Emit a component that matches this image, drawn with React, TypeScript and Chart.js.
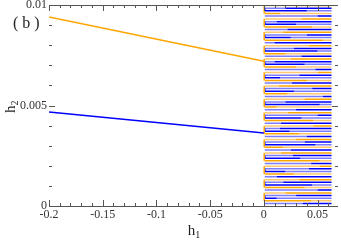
import { useEffect, useRef } from "react";
import { Chart, registerables } from "chart.js";

Chart.register(...registerables);

// main branches (x < 0)
const mainX = [-0.2, 0];
const orangeMainY = [0.0094, 0.0072];
const blueMainY = [0.00468, 0.00363];

// ticks
const xTickValues = [-0.2, -0.15, -0.1, -0.05, 0, 0.05];
const xTickLabels = ["-0.2", "-0.15", "-0.1", "-0.05", "0", "0.05"];
const xMinorTicks = [-0.19, -0.18, -0.17, -0.16, -0.14, -0.13, -0.12, -0.11, -0.09, -0.08, -0.07, -0.06, -0.04, -0.03, -0.02, -0.01, 0.01, 0.02, 0.03, 0.04, 0.06];
const yTickValues = [0, 0.005, 0.01];
const yTickLabels = ["0", "0.005", "0.01"];
const yMinorTicks = [0.001, 0.002, 0.003, 0.004, 0.006, 0.007, 0.008, 0.009];

// stripe region (x > 0)
const stripeStart = 0.0008;
const stripeEnd = 0.063;
const connectorX = 0.0003;
const stripeY = [
  0.00997, 0.00984, 0.00971, 0.00958, 0.00945,
  0.0093, 0.00917, 0.00904, 0.00891, 0.00878,
  0.00864, 0.00851, 0.00838, 0.00825, 0.00812,
  0.00797, 0.00784, 0.00771, 0.00758, 0.00745,
  0.00731, 0.00718, 0.00705, 0.00692, 0.00679,
  0.00664, 0.00651, 0.00638, 0.00625, 0.00612,
  0.00597, 0.00584, 0.00571, 0.00558, 0.00545,
  0.00531, 0.00518, 0.00505, 0.00492, 0.00479,
  0.00464, 0.00451, 0.00438, 0.00425, 0.00412,
  0.00398, 0.00385, 0.00372, 0.00359, 0.00346,
  0.00331, 0.00318, 0.00305, 0.00292, 0.00279,
  0.00264, 0.00251, 0.00238, 0.00225, 0.00212,
  0.00198, 0.00185, 0.00172, 0.00159, 0.00146,
  0.00131, 0.00118, 0.00105, 0.00092, 0.00079,
  0.00065, 0.00052, 0.00039, 0.00026, 0.00013,
];
const stripeSplit = [
  0.028, 0.02, 0.04, 0.015, 0.05,
  0.035, 0.012, 0.03, 0.045, 0.022,
  0.018, 0.04, 0.025, 0.055, 0.01,
  0.042, 0.028, 0.05, 0.02, 0.035,
  0.025, 0.01, 0.038, 0.03, 0.048,
  0.05, 0.033, 0.015, 0.04, 0.026,
  0.014, 0.045, 0.028, 0.022, 0.055,
  0.038, 0.02, 0.052, 0.012, 0.03,
  0.022, 0.05, 0.035, 0.046, 0.016,
  0.046, 0.015, 0.024, 0.033, 0.04,
  0.03, 0.038, 0.048, 0.018, 0.025,
  0.016, 0.027, 0.034, 0.052, 0.044,
  0.052, 0.042, 0.02, 0.028, 0.012,
  0.033, 0.018, 0.045, 0.038, 0.05,
  0.02, 0.03, 0.012, 0.044, 0.036,
];

const palette: Record<string, string> = {
  o: "#ffa500",
  lo: "#ffc870",
  b: "#0000ff",
  lb: "#7c7cff",
};
const rowColors = [
  ["lo", "o"],
  ["lb", "b"],
  ["b", "lb"],
  ["o", "lo"],
  ["lb", "b"],
];

const SERIF = "'Liberation Serif', 'DejaVu Serif', serif";

const framePlugin = {
  id: "frame",
  afterDraw(chart: any) {
    const { ctx, chartArea } = chart;
    const xs = chart.scales.x;
    const ys = chart.scales.y;
    const { left, right, top, bottom } = chartArea;
    ctx.save();
    ctx.strokeStyle = "#555";
    ctx.lineWidth = 1;
    ctx.beginPath();
    ctx.moveTo(left, Math.round(top) + 0.5);
    ctx.lineTo(right, Math.round(top) + 0.5);
    ctx.moveTo(left, Math.round(bottom) + 0.5);
    ctx.lineTo(right, Math.round(bottom) + 0.5);
    const xt = (v: number, len: number) => {
      const p = Math.round(xs.getPixelForValue(v)) + 0.5;
      ctx.moveTo(p, bottom);
      ctx.lineTo(p, bottom - len);
      ctx.moveTo(p, top);
      ctx.lineTo(p, top + len);
    };
    const yt = (v: number, len: number) => {
      const p = Math.round(ys.getPixelForValue(v)) + 0.5;
      ctx.moveTo(left, p);
      ctx.lineTo(left + len, p);
      ctx.moveTo(right, p);
      ctx.lineTo(right - len, p);
    };
    xTickValues.forEach((v) => xt(v, 6));
    xMinorTicks.forEach((v) => xt(v, 3));
    yTickValues.forEach((v) => yt(v, 6));
    yMinorTicks.forEach((v) => yt(v, 3));
    ctx.stroke();

    ctx.fillStyle = "#222";
    ctx.textBaseline = "alphabetic";
    ctx.textAlign = "left";
    ctx.font = `16px ${SERIF}`;
    ctx.fillText("( b )", 13, 28);

    // x title h1
    ctx.font = `15px ${SERIF}`;
    const hw = ctx.measureText("h").width;
    const cx = (left + right) / 2;
    ctx.fillText("h", cx - hw / 2 - 2, 235);
    ctx.font = `10px ${SERIF}`;
    ctx.fillText("1", cx + hw / 2 - 2, 238);

    // y title h2
    ctx.translate(15, 113);
    ctx.rotate(-Math.PI / 2);
    ctx.font = `15px ${SERIF}`;
    ctx.fillText("h", 0, 0);
    ctx.font = `10px ${SERIF}`;
    ctx.fillText("2", hw, 3);
    ctx.restore();
  },
};

export default function App() {
  const ref = useRef<HTMLCanvasElement>(null);
  useEffect(() => {
    if (!ref.current) return;
    const segs: Record<string, { x: number; y: number | null }[]> = { o: [], lo: [], b: [], lb: [] };
    stripeY.forEach((y, i) => {
      const [l, r] = rowColors[i % 5];
      const s = stripeSplit[i];
      segs[l].push({ x: stripeStart, y }, { x: s, y }, { x: s, y: null });
      segs[r].push({ x: s, y }, { x: stripeEnd, y }, { x: stripeEnd, y: null });
    });
    for (let g = 0; g < stripeY.length / 5; g++) {
      segs.o.push({ x: connectorX, y: stripeY[g * 5] }, { x: connectorX, y: stripeY[g * 5 + 3] }, { x: connectorX, y: null });
      segs.b.push({ x: connectorX + 0.0005, y: stripeY[g * 5 + 1] }, { x: connectorX + 0.0005, y: stripeY[g * 5 + 2] }, { x: connectorX, y: null });
    }
    const lineDs = (data: any[], color: string) => ({
      data,
      borderColor: color,
      backgroundColor: color,
      borderWidth: 1.5,
      pointRadius: 0,
      fill: false,
      spanGaps: false,
      tension: 0,
    });
    const chart = new Chart(ref.current, {
      type: "line",
      data: {
        datasets: [
          lineDs(mainX.map((x, i) => ({ x, y: orangeMainY[i] })), palette.o),
          lineDs(mainX.map((x, i) => ({ x, y: blueMainY[i] })), palette.b),
          lineDs(segs.o, palette.o),
          lineDs(segs.b, palette.b),
          lineDs(segs.lo, palette.lo),
          lineDs(segs.lb, palette.lb),
        ],
      },
      options: {
        animation: false,
        responsive: false,
        layout: { padding: { left: 0, right: 3, top: 5, bottom: 0 } },
        plugins: { legend: { display: false }, tooltip: { enabled: false } },
        scales: {
          x: {
            type: "linear",
            min: -0.2,
            max: 0.069,
            grid: { display: false, drawTicks: false, tickLength: 0 },
            border: { display: false },
            afterBuildTicks: (s: any) => {
              s.ticks = xTickValues.map((v) => ({ value: v }));
            },
            afterFit: (s: any) => {
              s.height = 34;
              s.paddingLeft = 0;
              s.paddingRight = 0;
            },
            ticks: {
              autoSkip: false,
              maxRotation: 0,
              padding: 2,
              color: "#333",
              font: { family: SERIF, size: 12 },
              callback: (v: any) => {
                const i = xTickValues.findIndex((t) => Math.abs(t - v) < 1e-9);
                return i >= 0 ? xTickLabels[i] : "";
              },
            },
          },
          y: {
            type: "linear",
            min: 0,
            max: 0.01,
            grid: { display: false, drawTicks: false, tickLength: 0 },
            border: { display: false },
            afterBuildTicks: (s: any) => {
              s.ticks = yTickValues.map((v) => ({ value: v }));
            },
            afterFit: (s: any) => {
              s.width = 49;
              s.paddingTop = 0;
              s.paddingBottom = 0;
            },
            ticks: {
              autoSkip: false,
              padding: 2,
              color: "#333",
              font: { family: SERIF, size: 12 },
              callback: (v: any) => {
                const i = yTickValues.findIndex((t) => Math.abs(t - v) < 1e-9);
                return i >= 0 ? yTickLabels[i] : "";
              },
            },
          },
        },
      },
      plugins: [framePlugin],
    });
    return () => chart.destroy();
  }, []);
  return (
    <canvas
      ref={ref}
      width={341}
      height={240}
      style={{ position: "absolute", left: 0, top: 0, width: 341, height: 240 }}
    />
  );
}
